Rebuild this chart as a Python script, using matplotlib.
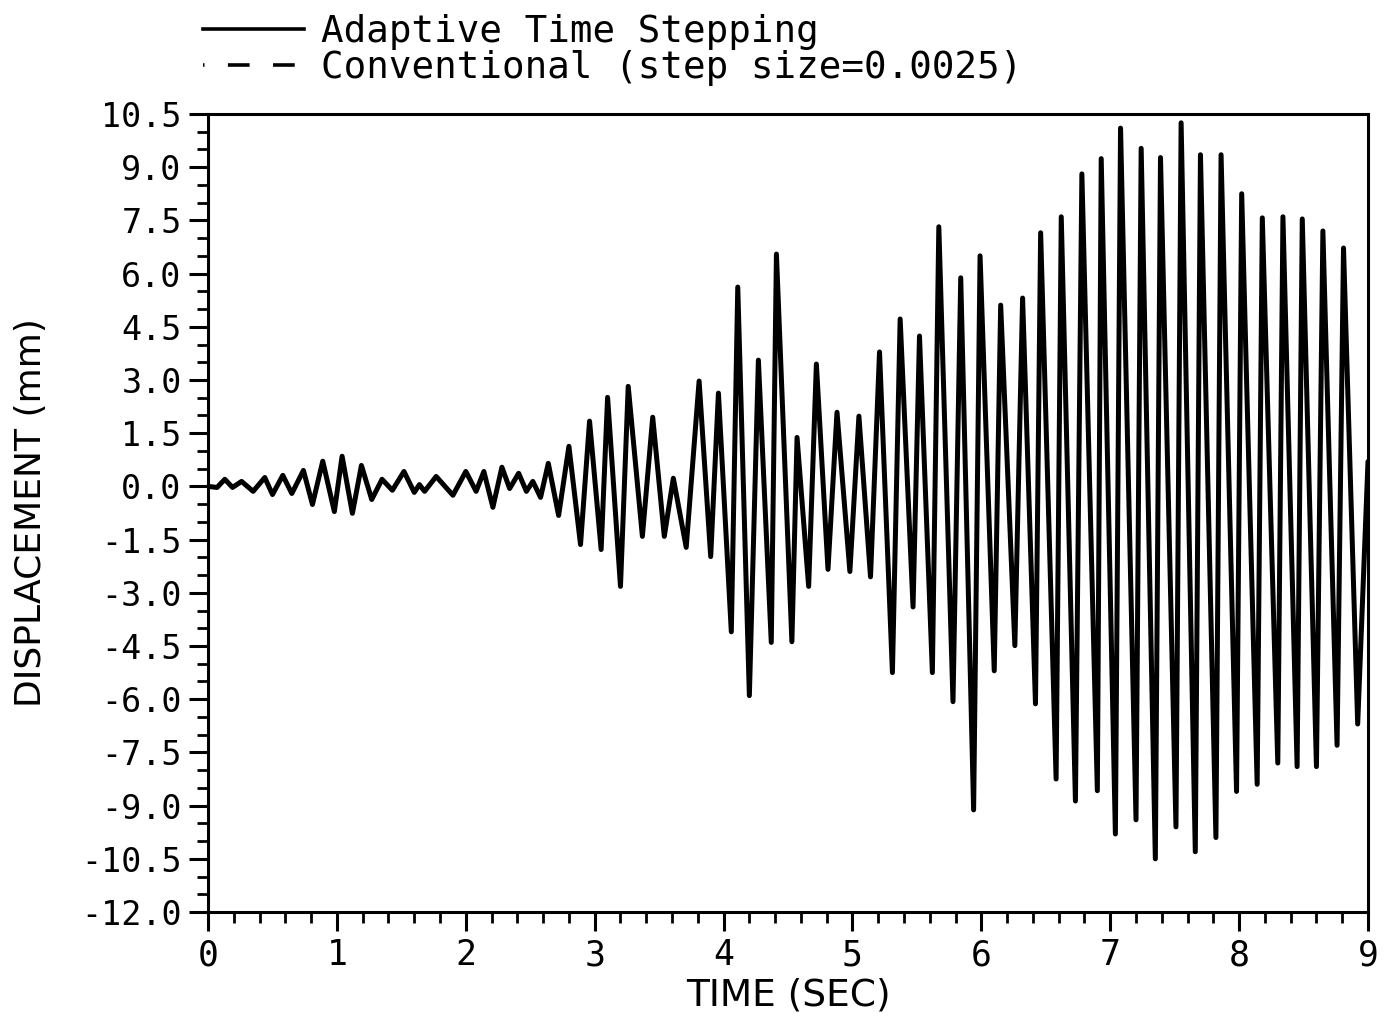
import numpy as np
import matplotlib.pyplot as plt
from matplotlib.ticker import MultipleLocator, FormatStrFormatter
from matplotlib.lines import Line2D

# peak / trough readings of the displacement response (sec, mm)
time_sec = [
    0.00, 0.07, 0.13, 0.19, 0.26, 0.35, 0.44, 0.50, 0.58, 0.65,
    0.74, 0.81, 0.89, 0.98, 1.04, 1.12, 1.19, 1.27, 1.35, 1.43,
    1.52, 1.60, 1.64, 1.68, 1.77, 1.90, 2.00, 2.08, 2.14, 2.21,
    2.28, 2.34, 2.41, 2.47, 2.52, 2.58, 2.64, 2.72, 2.80, 2.89,
    2.96, 3.05, 3.10, 3.20, 3.26, 3.37, 3.45, 3.54, 3.61, 3.71,
    3.81, 3.90, 3.96, 4.06, 4.11, 4.20, 4.27, 4.37, 4.41, 4.53,
    4.57, 4.66, 4.72, 4.81, 4.88, 4.98, 5.05, 5.14, 5.21, 5.31,
    5.37, 5.47, 5.52, 5.62, 5.67, 5.78, 5.84, 5.94, 5.99, 6.10,
    6.15, 6.26, 6.32, 6.42, 6.46, 6.58, 6.62, 6.73, 6.78, 6.90,
    6.93, 7.04, 7.08, 7.20, 7.24, 7.35, 7.39, 7.51, 7.55, 7.66,
    7.70, 7.82, 7.86, 7.98, 8.02, 8.14, 8.18, 8.30, 8.34, 8.45,
    8.49, 8.60, 8.65, 8.76, 8.81, 8.92, 9.00,
]
adaptive_mm = [
    0.00, -0.03, 0.20, -0.03, 0.14, -0.14, 0.25, -0.23, 0.31, -0.20,
    0.45, -0.51, 0.71, -0.71, 0.85, -0.76, 0.59, -0.37, 0.20, -0.11,
    0.42, -0.17, 0.05, -0.14, 0.28, -0.25, 0.42, -0.14, 0.42, -0.59,
    0.54, -0.06, 0.37, -0.14, 0.14, -0.31, 0.65, -0.82, 1.13, -1.64,
    1.84, -1.78, 2.51, -2.82, 2.82, -1.41, 1.95, -1.41, 0.23, -1.72,
    2.97, -1.98, 2.63, -4.10, 5.62, -5.90, 3.56, -4.40, 6.55, -4.38,
    1.38, -2.82, 3.45, -2.34, 2.09, -2.40, 1.98, -2.55, 3.79, -5.25,
    4.72, -3.40, 4.24, -5.25, 7.32, -6.07, 5.88, -9.12, 6.50, -5.20,
    5.11, -4.49, 5.31, -6.13, 7.15, -8.25, 7.60, -8.87, 8.81, -8.58,
    9.24, -9.80, 10.10, -9.40, 9.53, -10.50, 9.27, -9.60, 10.25, -10.30,
    9.35, -9.90, 9.35, -8.60, 8.25, -8.40, 7.57, -7.80, 7.60, -7.90,
    7.54, -7.90, 7.20, -7.30, 6.72, -6.70, 0.70,
]
# fixed step run lies on top of the adaptive one at this scale
conventional_mm = list(adaptive_mm)

labels = ["Adaptive Time Stepping", "Conventional (step size=0.0025)"]

mono = "DejaVu Sans Mono"

fig = plt.figure(figsize=(13.87, 10.13), dpi=100)
ax = fig.add_axes([0.1500, 0.0997, 0.8363, 0.7878])

ax.plot(time_sec, conventional_mm, color="black", lw=1.2,
        dashes=(6, 6), zorder=2)
ax.plot(time_sec, adaptive_mm, color="black", lw=3.6,
        solid_joinstyle="round", solid_capstyle="round", zorder=3)

ax.set_xlim(0, 9)
ax.set_ylim(-12, 10.5)
ax.set_yticks(np.arange(-12, 10.51, 1.5))
ax.yaxis.set_major_formatter(FormatStrFormatter("%.1f"))
ax.yaxis.set_minor_locator(MultipleLocator(0.5))
ax.xaxis.set_major_locator(MultipleLocator(1))
ax.xaxis.set_minor_locator(MultipleLocator(0.2))

for s in ax.spines.values():
    s.set_linewidth(2.2)

ax.tick_params(which="major", direction="out", length=14, width=2.2,
               pad=5)
ax.tick_params(which="minor", direction="out", length=8, width=2.0)
for lab in ax.get_yticklabels():
    lab.set_fontfamily(mono)
    lab.set_fontsize(24)
for lab in ax.get_xticklabels():
    lab.set_fontfamily(mono)
    lab.set_fontsize(25)

ax.set_xlabel("TIME (SEC)", fontsize=27, labelpad=4)
ax.set_ylabel("DISPLACEMENT (mm)", fontsize=26, labelpad=24)

handles = [
    Line2D([], [], color="black", lw=2.6),
    Line2D([], [], color="black", lw=2.6, dashes=(0.4, 6.5, 6, 6.5, 6, 20)),
]
ax.legend(handles, labels, loc="lower left",
          bbox_to_anchor=(203 / 1387, 1 - 86 / 1013),
          bbox_transform=fig.transFigure,
          prop={"family": mono, "size": 27},
          frameon=False, handlelength=2.7, handletextpad=0.45,
          labelspacing=0.0, borderpad=0, borderaxespad=0)

fig.savefig("out.png", dpi=100)
